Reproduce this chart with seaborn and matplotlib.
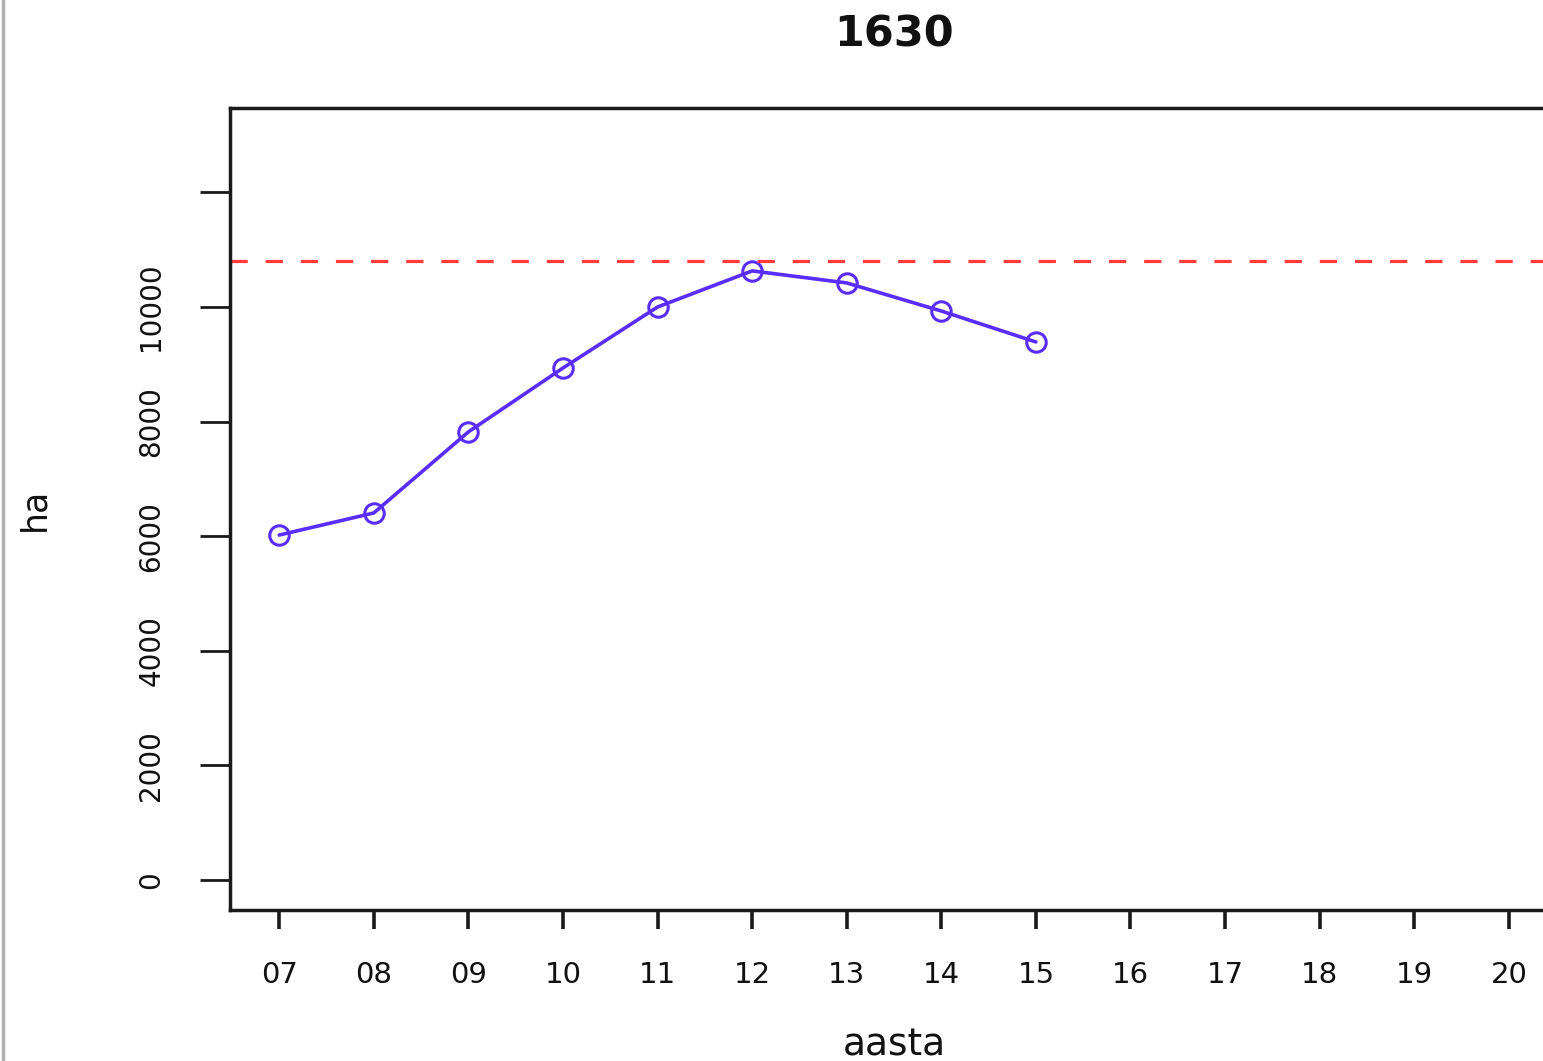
import matplotlib
matplotlib.use("Agg")
import matplotlib.pyplot as plt
from matplotlib.lines import Line2D
import seaborn as sns
import pandas as pd

# ---- data ----
title_text = "1630"
years = [7, 8, 9, 10, 11, 12, 13, 14, 15]
area_ha = [6020, 6405, 7820, 8935, 10000, 10630, 10420, 9930, 9390]
reference_level = 10800
tick_years = list(range(7, 21))
tick_labels = ["07", "08", "09", "10", "11", "12", "13", "14", "15", "16", "17", "18", "19", "20"]
y_ticks = [0, 2000, 4000, 6000, 8000, 10000, 12000]
y_tick_labels = ["0", "2000", "4000", "6000", "8000", "10000", ""]
x_label = "aasta"
y_label = "ha"

sns.set_theme(style="white")
plt.rcParams["font.family"] = ["DejaVu Sans"]

W, H = 1543, 1061
fig = plt.figure(figsize=(W / 100, H / 100), dpi=100)
fig.patch.set_facecolor("white")
ax = fig.add_axes([230 / W, (H - 910) / H, 1328 / W, 802 / H])

df = pd.DataFrame({"aasta": years, "ha": area_ha})
sns.lineplot(data=df, x="aasta", y="ha", ax=ax, color="#5a2dff", linewidth=2.6,
             marker="o", markersize=14, markerfacecolor="none",
             markeredgecolor="#5a2dff", markeredgewidth=2.2)

ax.axhline(reference_level, color="#ff3c3c", linewidth=2.3, dashes=(5.4, 5.6))

ax.set_xlim(7 - 0.52, 20 + 0.52)
ax.set_ylim(-524, 13473)

ax.set_xticks(tick_years)
ax.set_xticklabels(tick_labels, fontsize=21)
ax.set_yticks(y_ticks)
ax.set_yticklabels(y_tick_labels, fontsize=20, rotation=90, va="center")

ax.tick_params(axis="x", direction="out", length=13.5, width=2.6, pad=23, color="#1a1a1a",
               bottom=True, labelcolor="#111111")
ax.tick_params(axis="y", direction="out", length=21.5, width=2.0, pad=25, color="#1a1a1a",
               left=True, labelcolor="#111111")

for s in ax.spines.values():
    s.set_visible(True)
    s.set_color("#1a1a1a")
    s.set_linewidth(2.5)

ax.set_title(title_text, fontsize=31, fontweight="bold", pad=44, color="#111111")
ax.set_xlabel(x_label, fontsize=27, labelpad=28, color="#111111")
ax.set_ylabel(y_label, fontsize=25, labelpad=62, color="#111111")

# thin grey border at the left edge of the image
fig.add_artist(Line2D([2.5 / W, 2.5 / W], [0, 1], transform=fig.transFigure,
                      color="#b0b0b0", linewidth=2.5))

fig.savefig("out.png", dpi=100)
